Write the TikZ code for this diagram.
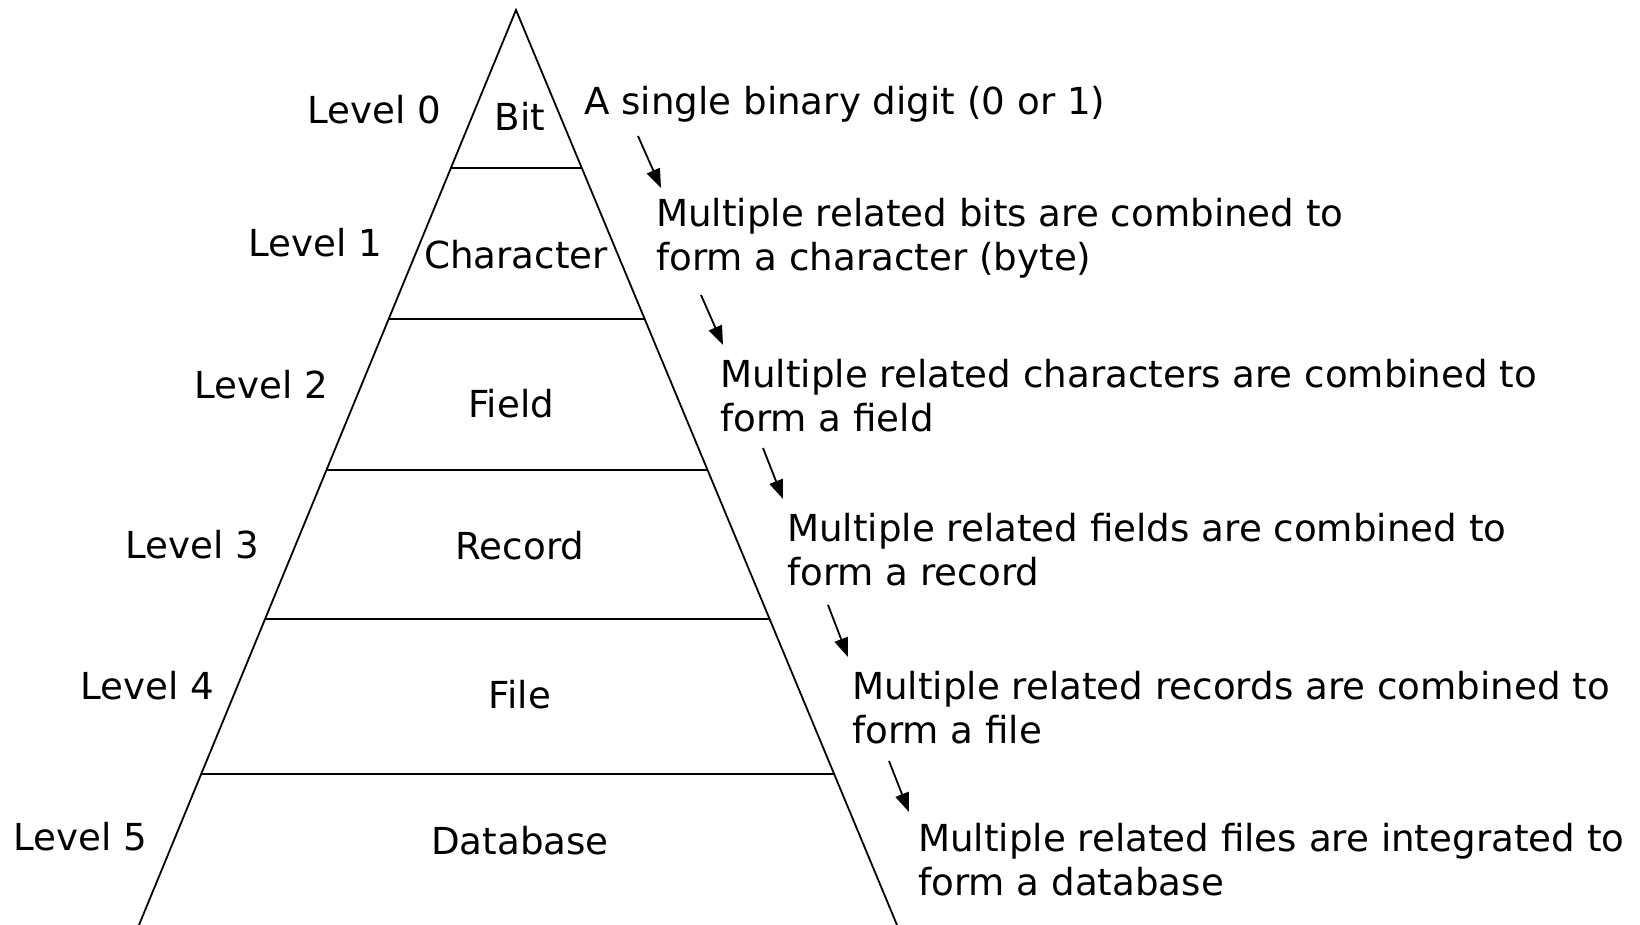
\documentclass[tikz,border=0pt]{standalone}
\usepackage{fontspec}
\setmainfont{DejaVu Sans}
\usetikzlibrary{arrows.meta,calc}
\begin{document}
\begin{tikzpicture}[x=1pt,y=-1pt,
  edge/.style={line width=1.8pt,line cap=butt},
  txt/.style={inner sep=0pt,font=\fontsize{37.2}{44}\selectfont},
  desc/.style={txt,anchor=west,align=left},
  arr/.style={line width=1.8pt,-{Triangle[length=19pt,width=14pt]}}]
\useasboundingbox (0,0) rectangle (1640,925);
\coordinate (A) at (516,10);
\coordinate (BL) at (139,925);
\coordinate (BR) at (897,925);
\draw[edge] (BL) -- (A) -- (BR);
\foreach \t [count=\i] in {0.1727,0.3377,0.5027,0.6656,0.835}{
  \draw[edge] ($(A)!\t!(BL)$) coordinate (l\i) -- ($(A)!\t!(BR)$) coordinate (r\i);
}
% layer names
\node[txt] (bit) at (520,116) {Bit};
\node[txt] (char) at (516,255) {Character};
\node[txt] (field) at (511,404) {Field};
\node[txt] (record) at (520,546) {Record};
\node[txt] (file) at (520,695) {File};
\node[txt] (db) at (520,841) {Database};
% levels
\node[txt] (lv0) at (374,110) {Level 0};
\node[txt] (lv1) at (315,243) {Level 1};
\node[txt] (lv2) at (261,385) {Level 2};
\node[txt] (lv3) at (192,545) {Level 3};
\node[txt] (lv4) at (147,686) {Level 4};
\node[txt] (lv5) at (80,837) {Level 5};
% descriptions
\node[desc] (d0) at (584,104) {A single binary digit (0 or 1)};
\node[desc] (d1) at (656,238) {Multiple related bits are combined to\\form a character (byte)};
\node[desc] (d2) at (720,396) {Multiple related characters are combined to\\form a field};
\node[desc] (d3) at (787,550) {Multiple related fields are combined to\\form a record};
\node[desc] (d4) at (852,708) {Multiple related records are combined to\\form a file};
\node[desc] (d5) at (918,860) {Multiple related files are integrated to\\form a database};
% arrows
\coordinate (s1) at (638,136); \coordinate (e1) at (661,188);
\coordinate (s2) at (701,295); \coordinate (e2) at (723,345);
\coordinate (s3) at (763,448); \coordinate (e3) at (783,499);
\coordinate (s4) at (828,605); \coordinate (e4) at (848,657);
\coordinate (s5) at (889,761); \coordinate (e5) at (909,812);
\foreach \i in {1,...,5}{\draw[arr] (s\i) -- (e\i);}
\end{tikzpicture}
\end{document}
